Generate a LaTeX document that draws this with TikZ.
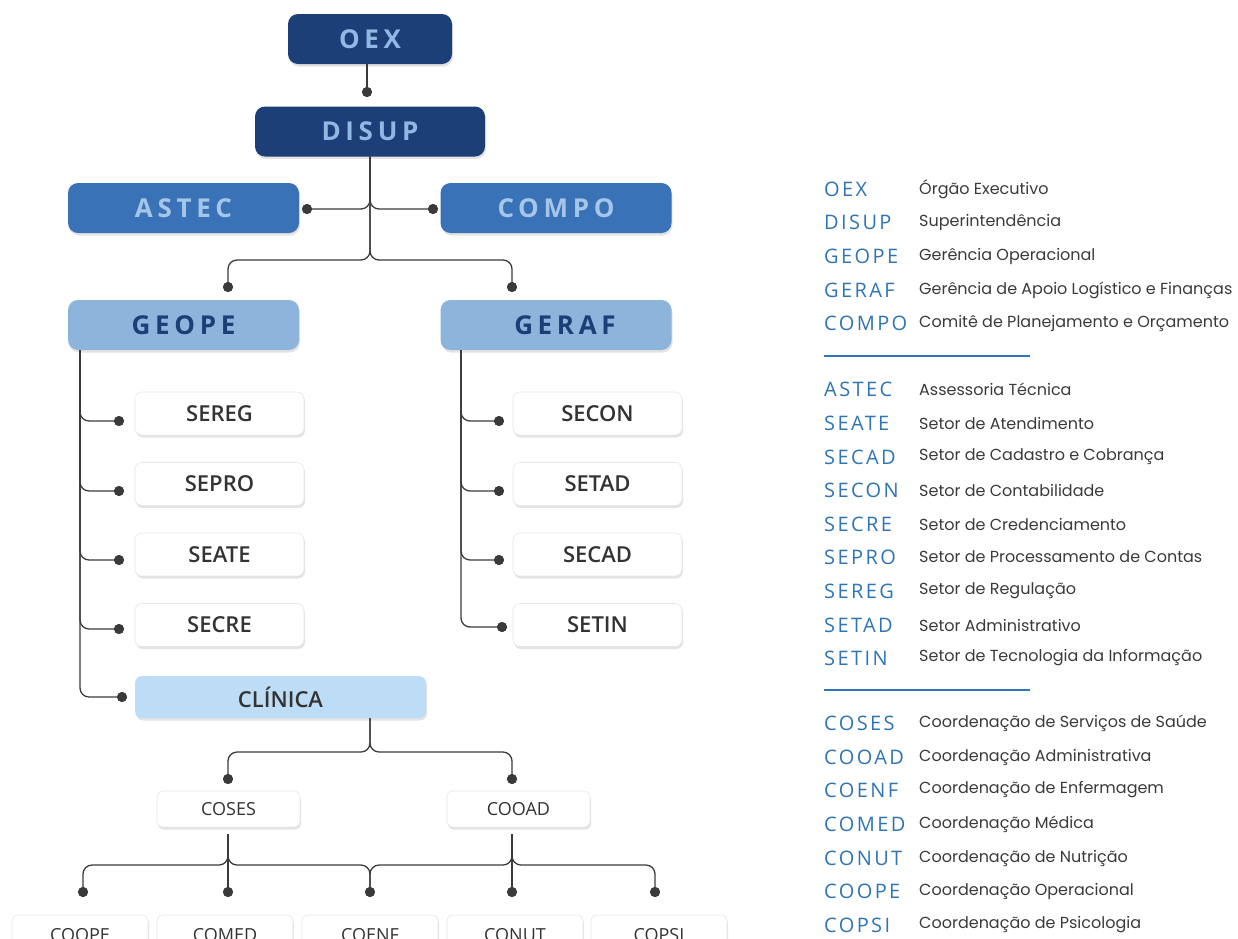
\documentclass[tikz,border=0pt]{standalone}
\usepackage{fontspec}
\setmainfont{Open Sans}
\newfontfamily\ossemi{Open Sans Semibold}
\newfontfamily\legfont{Poppins}
\usetikzlibrary{shadows}
\definecolor{navy}{HTML}{1C3F77}
\definecolor{midblue}{HTML}{3A72B8}
\definecolor{lightblue}{HTML}{8DB5DB}
\definecolor{paleblue}{HTML}{BDDCF5}
\definecolor{navytext}{HTML}{8FB8E3}
\definecolor{midtext}{HTML}{A5C6E8}
\definecolor{legblue}{HTML}{2F74B5}
\definecolor{legtext}{HTML}{3A3A3A}
\definecolor{conncol}{HTML}{3A3A3A}
\definecolor{boxtext}{HTML}{333333}
\definecolor{boxedge}{HTML}{E6E6E6}
\tikzset{
  shad/.style={drop shadow={opacity=0.22, shadow xshift=1pt, shadow yshift=-2.5pt}},
  bigbox/.style={shad, rounded corners=10pt, inner sep=0pt, minimum height=50pt,
     font=\bfseries\addfontfeature{LetterSpace=18}\fontsize{26}{30}\selectfont},
  topbox/.style={bigbox, fill=navy, text=navytext},
  secbox/.style={bigbox, fill=midblue, text=midtext, minimum width=231pt},
  gerbox/.style={bigbox, fill=lightblue, text=navy, minimum width=231pt},
  subbox/.style={shad, fill=white, draw=boxedge, line width=0.6pt, rounded corners=7pt, inner sep=0pt, minimum width=169pt,
     minimum height=43pt, text=boxtext, font=\ossemi\fontsize{22}{26}\selectfont},
  cobox/.style={shad, fill=white, draw=boxedge, line width=0.6pt, rounded corners=6pt, inner sep=0pt, minimum width=143pt,
     minimum height=36pt, text=boxtext, font=\fontsize{18}{22}\selectfont},
  lowbox/.style={cobox, minimum width=136pt, minimum height=40pt},
  dot/.style={circle, fill=conncol, inner sep=0pt, minimum size=10pt},
  conn/.style={draw=conncol, line width=1.3pt, rounded corners=9pt},
  abbr/.style={anchor=west, inner sep=0pt, text=legblue,
     font=\addfontfeature{LetterSpace=12}\fontsize{20}{24}\selectfont},
  desc/.style={anchor=west, inner sep=0pt, text=legtext, font=\legfont\fontsize{16}{20}\selectfont},
  legline/.style={draw=legblue, line width=2pt},
}
\begin{document}
\begin{tikzpicture}[x=1pt, y=-1pt]
\useasboundingbox (0,0) rectangle (1238,938);
\clip (0,0) rectangle (1238,938);

% main boxes
\node[topbox, minimum width=164pt] (oex) at (370,39) {OEX};
\node[topbox, minimum width=230pt] (disup) at (370,131.5) {DISUP};
\node[secbox] (astec) at (183.5,208) {ASTEC};
\node[secbox] (compo) at (556,208) {COMPO};
\node[gerbox] (geope) at (183.5,325) {GEOPE};
\node[gerbox] (geraf) at (556,325) {\hspace*{18pt}GERAF};

% GEOPE children
\node[subbox] (sereg) at (219.5,413.5) {SEREG};
\node[subbox] (sepro) at (219.5,484) {SEPRO};
\node[subbox] (seate) at (219.5,554.5) {SEATE};
\node[subbox] (secre) at (219.5,625) {SECRE};
\node[subbox, fill=paleblue, draw=none, minimum width=291pt, minimum height=42pt] (clinica) at (280.5,697) {CLÍNICA};

% GERAF children
\node[subbox] (secon) at (597.5,413.5) {SECON};
\node[subbox] (setad) at (597.5,484) {SETAD};
\node[subbox] (secad) at (597.5,554.5) {SECAD};
\node[subbox] (setin) at (597.5,625) {SETIN};

% Clinica children
\node[cobox] (coses) at (228.5,809) {COSES};
\node[cobox] (cooad) at (518.5,809) {COOAD};

% bottom row
\node[lowbox] (coope) at (80,935) {COOPE};
\node[lowbox] (comed) at (225,935) {COMED};
\node[lowbox] (coenf) at (370,935) {COENF};
\node[lowbox] (conut) at (515,935) {CONUT};
\node[lowbox] (copsi) at (659,935) {COPSI};

% dots
\node[dot] (d-disup) at (367,92) {};
\node[dot] (d-astec) at (307,209) {};
\node[dot] (d-compo) at (433,209) {};
\node[dot] (d-geope) at (228,287) {};
\node[dot] (d-geraf) at (512,287) {};
\node[dot] (d-sereg) at (119,421) {};
\node[dot] (d-sepro) at (119,491) {};
\node[dot] (d-seate) at (119,560) {};
\node[dot] (d-secre) at (119,629) {};
\node[dot] (d-clinica) at (122,697) {};
\node[dot] (d-secon) at (499,421) {};
\node[dot] (d-setad) at (499,491) {};
\node[dot] (d-secad) at (499,560) {};
\node[dot] (d-setin) at (502,627) {};
\node[dot] (d-coses) at (228,779) {};
\node[dot] (d-cooad) at (512,779) {};
\node[dot] (d-coope) at (83,892) {};
\node[dot] (d-comed) at (228,892) {};
\node[dot] (d-coenf) at (370,892) {};
\node[dot] (d-conut) at (512,892) {};
\node[dot] (d-copsi) at (655,892) {};

\coordinate (oexs) at (367,64);
\coordinate (disups) at (370,156);
\coordinate (geopel) at (80,350);
\coordinate (geraf-l) at (461,350);
\coordinate (clins) at (370,718);
\coordinate (cosess) at (228,834);
\coordinate (cooads) at (512,834);

% connectors
\draw[conn] (oexs) -- (d-disup);
\draw[conn] (disups) |- (d-astec);
\draw[conn] (disups) |- (d-compo);
\draw[conn] (disups) |- (228,260) -- (d-geope);
\draw[conn] (disups) |- (512,260) -- (d-geraf);
\draw[conn] (geopel) |- (d-sereg);
\draw[conn] (geopel) |- (d-sepro);
\draw[conn] (geopel) |- (d-seate);
\draw[conn] (geopel) |- (d-secre);
\draw[conn] (geopel) |- (d-clinica);
\draw[conn] (geraf-l) |- (d-secon);
\draw[conn] (geraf-l) |- (d-setad);
\draw[conn] (geraf-l) |- (d-secad);
\draw[conn] (geraf-l) |- (d-setin);
\draw[conn] (clins) |- (228,752) -- (d-coses);
\draw[conn] (clins) |- (512,752) -- (d-cooad);
\draw[conn] (cosess) |- (83,865) -- (d-coope);
\draw[conn] (cosess) -- (d-comed);
\draw[conn] (cosess) |- (370,865) -- (d-coenf);
\draw[conn] (cooads) |- (370,865) -- (d-coenf);
\draw[conn] (cooads) -- (d-conut);
\draw[conn] (cooads) |- (655,865) -- (d-copsi);

% dots on top of connector ends
\foreach \d in {d-disup,d-astec,d-compo,d-geope,d-geraf,d-sereg,d-sepro,d-seate,d-secre,d-clinica,d-secon,d-setad,d-secad,d-setin,d-coses,d-cooad,d-coope,d-comed,d-coenf,d-conut,d-copsi}
  \fill[conncol] (\d) circle (5pt);

% legend
\node[abbr] (l1a) at (824,189) {OEX};   \node[desc] (l1b) at (919,189) {Órgão Executivo};
\node[abbr] (l2a) at (824,222) {DISUP}; \node[desc] (l2b) at (919,222) {Superintendência};
\node[abbr] (l3a) at (824,256) {GEOPE}; \node[desc] (l3b) at (919,256) {Gerência Operacional};
\node[abbr] (l4a) at (824,290) {GERAF}; \node[desc] (l4b) at (919,290) {Gerência de Apoio Logístico e Finanças};
\node[abbr] (l5a) at (824,323) {COMPO}; \node[desc] (l5b) at (919,323) {Comitê de Planejamento e Orçamento};
\draw[legline] (824,356) -- (1030,356);

\node[abbr] (m1a) at (824,389) {ASTEC}; \node[desc] (m1b) at (919,389) {Assessoria Técnica};
\node[abbr] (m2a) at (824,423) {SEATE}; \node[desc] (m2b) at (919,423) {Setor de Atendimento};
\node[abbr] (m3a) at (824,457) {SECAD}; \node[desc] (m3b) at (919,457) {Setor de Cadastro e Cobrança};
\node[abbr] (m4a) at (824,490) {SECON}; \node[desc] (m4b) at (919,490) {Setor de Contabilidade};
\node[abbr] (m5a) at (824,524) {SECRE}; \node[desc] (m5b) at (919,524) {Setor de Credenciamento};
\node[abbr] (m6a) at (824,557) {SEPRO}; \node[desc] (m6b) at (919,557) {Setor de Processamento de Contas};
\node[abbr] (m7a) at (824,591) {SEREG}; \node[desc] (m7b) at (919,591) {Setor de Regulação};
\node[abbr] (m8a) at (824,625) {SETAD}; \node[desc] (m8b) at (919,625) {Setor Administrativo};
\node[abbr] (m9a) at (824,658) {SETIN}; \node[desc] (m9b) at (919,658) {Setor de Tecnologia da Informação};
\draw[legline] (824,690) -- (1030,690);

\node[abbr] (n1a) at (824,723) {COSES}; \node[desc] (n1b) at (919,723) {Coordenação de Serviços de Saúde};
\node[abbr] (n2a) at (824,757) {COOAD}; \node[desc] (n2b) at (919,757) {Coordenação Administrativa};
\node[abbr] (n3a) at (824,790) {COENF}; \node[desc] (n3b) at (919,790) {Coordenação de Enfermagem};
\node[abbr] (n4a) at (824,824) {COMED}; \node[desc] (n4b) at (919,824) {Coordenação Médica};
\node[abbr] (n5a) at (824,858) {CONUT}; \node[desc] (n5b) at (919,858) {Coordenação de Nutrição};
\node[abbr] (n6a) at (824,891) {COOPE}; \node[desc] (n6b) at (919,891) {Coordenação Operacional};
\node[abbr] (n7a) at (824,925) {COPSI}; \node[desc] (n7b) at (919,925) {Coordenação de Psicologia};
\end{tikzpicture}
\end{document}
